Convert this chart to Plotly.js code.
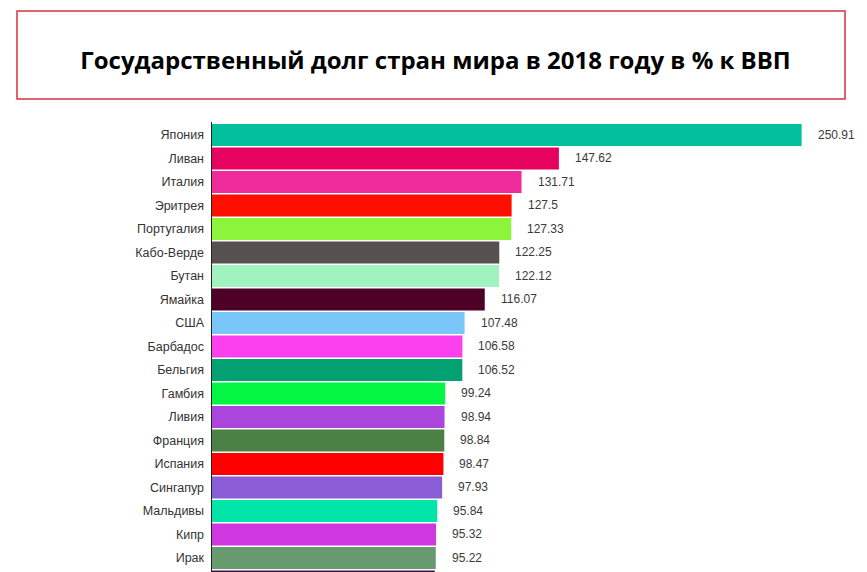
<!DOCTYPE html>
<html>
<head>
<meta charset="utf-8">
<script src="https://cdn.plot.ly/plotly-3.0.1.min.js"></script>
<style>
html,body{margin:0;padding:0;background:#fff;}
#chart{width:867px;height:572px;}
</style>
</head>
<body>
<div id="chart"></div>
<script>
const countries = ["Япония","Ливан","Италия","Эритрея","Португалия","Кабо-Верде","Бутан","Ямайка","США","Барбадос","Бельгия","Гамбия","Ливия","Франция","Испания","Сингапур","Мальдивы","Кипр","Ирак"," "];
const debt = [250.91,147.62,131.71,127.5,127.33,122.25,122.12,116.07,107.48,106.58,106.52,99.24,98.94,98.84,98.47,97.93,95.84,95.32,95.22,94.8];
const valueLabels = ["250.91","147.62","131.71","127.5","127.33","122.25","122.12","116.07","107.48","106.58","106.52","99.24","98.94","98.84","98.47","97.93","95.84","95.32","95.22",""];
const barColors = ["#02c09e","#e6025e","#ee2b9b","#ff0f00","#8cf53b","#56504f","#a0f2be","#4f0029","#78c7f8","#fb40ee","#03a072","#04f542","#ac44de","#4b8144","#ff0000","#8a5dd6","#02e5a9","#cf37df","#679a6f","#3d1248"];
const titleText = "Государственный долг стран мира в 2018 году в % к ВВП";

const W = 867, H = 572;
const L = 212, T = 122, R = 0, B = 0;
const pw = W - L - R, ph = H - T - B;
const px2x = p => (p - L) / pw;
const py2y = p => (H - B - p) / ph;

const annotations = countries.map((c, i) => ({
  x: debt[i], y: c, xref: 'x', yref: 'y',
  text: valueLabels[i], showarrow: false,
  xanchor: 'left', yanchor: 'middle', xshift: 14,
  font: {family: 'Liberation Sans, Arial, sans-serif', size: 12, color: '#3a3a3a'}
}));

const data = [{
  type: 'bar', orientation: 'h',
  y: countries, x: debt,
  marker: {color: barColors, line: {width: 0}},
  hoverinfo: 'none'
}];

const layout = {
  width: W, height: H,
  margin: {l: L, r: R, t: T, b: B, pad: 0},
  paper_bgcolor: '#fff', plot_bgcolor: '#fff',
  showlegend: false,
  bargap: 0.06,
  title: {
    text: '<b>' + titleText + '</b>',
    xref: 'paper', yref: 'paper',
    x: px2x(435.5), y: py2y(52), xanchor: 'center', yanchor: 'middle',
    font: {family: 'Open Sans, sans-serif', size: 24, color: '#000'}
  },
  xaxis: {
    range: [0, pw / 2.35],
    showgrid: false, zeroline: false, showticklabels: false, ticks: '', showline: false, fixedrange: true
  },
  yaxis: {
    type: 'category',
    range: [(H - 135) / 23.5, -0.55],
    showgrid: false, zeroline: false, ticks: '',
    showline: true, linecolor: '#222', linewidth: 1.5,
    ticklabelstandoff: 4,
    tickfont: {family: 'Liberation Sans, Arial, sans-serif', size: 12.5, color: '#333'},
    fixedrange: true
  },
  shapes: [{
    type: 'rect', xref: 'paper', yref: 'paper',
    x0: px2x(17), x1: px2x(845), y0: py2y(99), y1: py2y(11),
    line: {color: '#d8313e', width: 1.5}, fillcolor: 'rgba(0,0,0,0)'
  }],
  annotations: annotations
};

Plotly.newPlot('chart', data, layout, {displayModeBar: false, staticPlot: true});
</script>
</body>
</html>
